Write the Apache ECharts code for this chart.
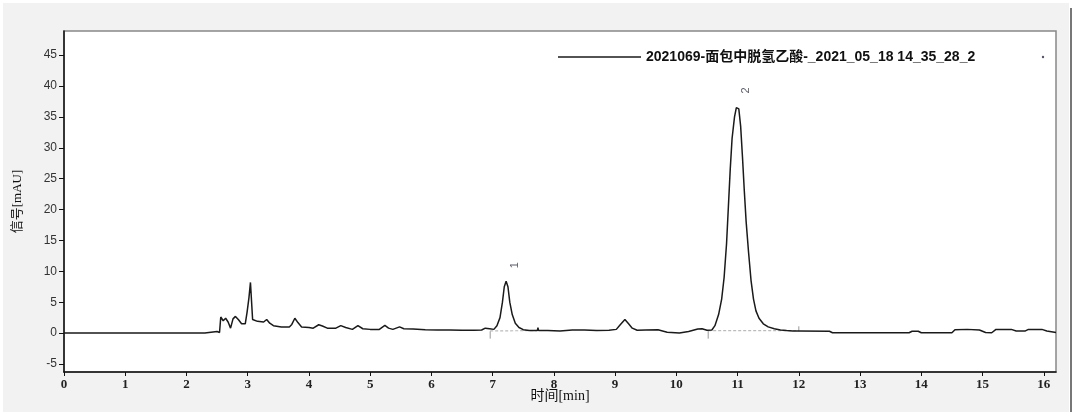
<!DOCTYPE html>
<html><head><meta charset="utf-8">
<script src="https://cdn.jsdelivr.net/npm/echarts@6/dist/echarts.min.js"></script>
<style>html,body{margin:0;padding:0;background:#fff}#c{width:1080px;height:418px}</style>
</head><body><div id="c"></div>
<script>
const seriesName = '2021069-面包中脱氢乙酸-_2021_05_18 14_35_28_2';
const xTicks = [0,1,2,3,4,5,6,7,8,9,10,11,12,13,14,15,16];
const yTicks = [-5,0,5,10,15,20,25,30,35,40,45];
const times = [0,2.3,2.32,2.5,2.54,2.56,2.6,2.64,2.68,2.72,2.76,2.8,2.85,2.9,2.96,2.99,3.02,3.045,3.065,3.08,3.16,3.26,3.31,3.36,3.42,3.55,3.68,3.72,3.77,3.82,3.88,4.0,4.07,4.16,4.22,4.3,4.44,4.52,4.6,4.71,4.8,4.88,5.0,5.15,5.24,5.3,5.37,5.48,5.55,5.7,5.9,6.1,6.3,6.5,6.7,6.82,6.88,6.95,7.02,7.07,7.12,7.16,7.19,7.22,7.25,7.28,7.32,7.37,7.43,7.5,7.6,7.73,7.74,7.75,7.9,8.1,8.3,8.5,8.7,8.9,9.02,9.08,9.16,9.22,9.28,9.36,9.5,9.7,9.85,10.05,10.2,10.35,10.42,10.5,10.58,10.63,10.69,10.74,10.78,10.82,10.85,10.88,10.91,10.95,10.98,11.0,11.02,11.05,11.08,11.11,11.14,11.18,11.22,11.26,11.3,11.35,11.42,11.5,11.6,11.7,11.8,11.9,12.0,12.5,12.55,13.0,13.5,13.8,13.85,13.95,14.0,14.5,14.55,14.75,14.95,15.05,15.15,15.22,15.47,15.55,15.7,15.75,15.97,16.05,16.2];
const signal = [0,0,0.25,0.25,0.1,2.6,2.0,2.4,1.8,0.8,2.3,2.7,2.15,1.5,1.5,3.4,5.7,8.2,8.2,2.2,1.9,1.8,2.2,1.6,1.2,1.0,1.0,1.4,2.4,1.7,1.0,0.9,0.8,1.35,1.15,0.8,0.8,1.2,0.9,0.6,1.2,0.7,0.6,0.6,1.25,0.8,0.6,1.0,0.7,0.65,0.55,0.5,0.5,0.45,0.45,0.5,0.8,0.7,0.6,1.2,2.5,5.0,7.5,8.4,7.5,5.0,3.0,1.6,0.9,0.55,0.4,0.4,0.9,0.4,0.4,0.35,0.5,0.5,0.4,0.45,0.6,1.3,2.2,1.5,0.8,0.45,0.5,0.55,0.15,0.0,0.25,0.65,0.7,0.45,0.5,1.2,3.0,5.5,9.0,14.5,20.5,26.5,31.5,35.0,36.5,36.7,36.3,33.5,28.5,23.0,18.0,13.0,8.5,5.5,3.6,2.4,1.5,1.0,0.7,0.5,0.4,0.35,0.35,0.3,0.05,0.05,0.05,0.05,0.3,0.3,0.05,0.05,0.55,0.6,0.5,0.1,0.05,0.6,0.6,0.35,0.35,0.6,0.6,0.35,0.1];
const baseline1 = [[6.96,0.35],[7.72,0.4]];
const baseline2 = [[10.52,0.4],[12.0,0.4]];
const markerTicks = [[6.96,0.3],[6.96,-0.9],[6.96,'-'],[10.52,0.4],[10.52,-0.9],[10.52,'-'],[12.0,0.3],[12.0,1.1]];
const peakLabels = [[7.22,8.4,'1'],[11.0,36.7,'2']];

const mainData = times.map((t,i)=>[t,signal[i]]);
const chart = echarts.init(document.getElementById('c'), null, {renderer:'canvas'});
chart.setOption({
  animation:false,
  backgroundColor:'#fff',
  graphic:[
    {type:'rect', z:-10, shape:{x:3,y:3,width:1066,height:409}, style:{fill:'#f2f2f2'}},
    {type:'line', z:-9, shape:{x1:1071,y1:8,x2:1071,y2:412}, style:{stroke:'#777',lineWidth:2}},
    {type:'circle', shape:{cx:1043,cy:57,r:1.2}, style:{fill:'#556'}}
  ],
  grid:{left:64,top:31,right:24,bottom:46,show:true,backgroundColor:'#fff',borderColor:'#888',borderWidth:1.5},
  legend:{
    data:[seriesName], left:553, top:45, icon:'rect', itemWidth:83, itemHeight:1.5, itemGap:0,
    textStyle:{fontFamily:'Liberation Sans, Arial, Noto Sans CJK SC, sans-serif',fontWeight:'bold',fontSize:14,color:'#111'}
  },
  xAxis:{
    type:'value', min:0, max:16.2,
    name:'时间[min]', nameLocation:'middle', nameGap:17, nameMoveOverlap:false,
    nameTextStyle:{fontFamily:'Liberation Serif, Noto Sans CJK SC, serif',fontSize:14,color:'#111'},
    axisLine:{show:true,onZero:false,lineStyle:{color:'#111',width:1.5}},
    axisTick:{show:true,length:4,customValues:xTicks,lineStyle:{color:'#111'}},
    axisLabel:{customValues:xTicks,margin:6,fontFamily:'Liberation Serif, serif',fontSize:13,fontWeight:'bold',color:'#222'},
    splitLine:{show:false}
  },
  yAxis:{
    type:'value', min:-6.3, max:48.9,
    name:'信号[mAU]', nameLocation:'middle', nameGap:40, nameRotate:90,
    nameTextStyle:{fontFamily:'Liberation Serif, Noto Sans CJK SC, serif',fontSize:13,color:'#111'},
    axisLine:{show:true,onZero:false,lineStyle:{color:'#111',width:1.5}},
    axisTick:{show:true,length:5,customValues:yTicks,lineStyle:{color:'#111'}},
    axisLabel:{customValues:yTicks,margin:7,fontFamily:'Liberation Sans, Tahoma, sans-serif',fontSize:12,color:'#333'},
    splitLine:{show:false}
  },
  series:[
    {name:'bl1',type:'line',data:baseline1,symbol:'none',silent:true,lineStyle:{color:'#bbb',width:1.2,type:[3,2]},z:1},
    {name:'bl2',type:'line',data:baseline2,symbol:'none',silent:true,lineStyle:{color:'#bbb',width:1.2,type:[3,2]},z:1},
    {name:'ticks',type:'line',data:markerTicks,symbol:'none',silent:true,connectNulls:false,lineStyle:{color:'#999',width:1},z:1},
    {name:seriesName,type:'line',data:mainData,symbol:'none',color:'#1a1a1a',lineStyle:{color:'#1a1a1a',width:1.5},z:3},
    {name:'peaks',type:'scatter',data:peakLabels.map(p=>({value:[p[0],p[1]],label:{formatter:p[2]}})),symbolSize:0,silent:true,
      label:{show:true,position:'top',distance:10,rotate:90,offset:[6,14],fontFamily:'Liberation Sans, sans-serif',fontSize:11,color:'#334'}}
  ]
});
</script></body></html>
